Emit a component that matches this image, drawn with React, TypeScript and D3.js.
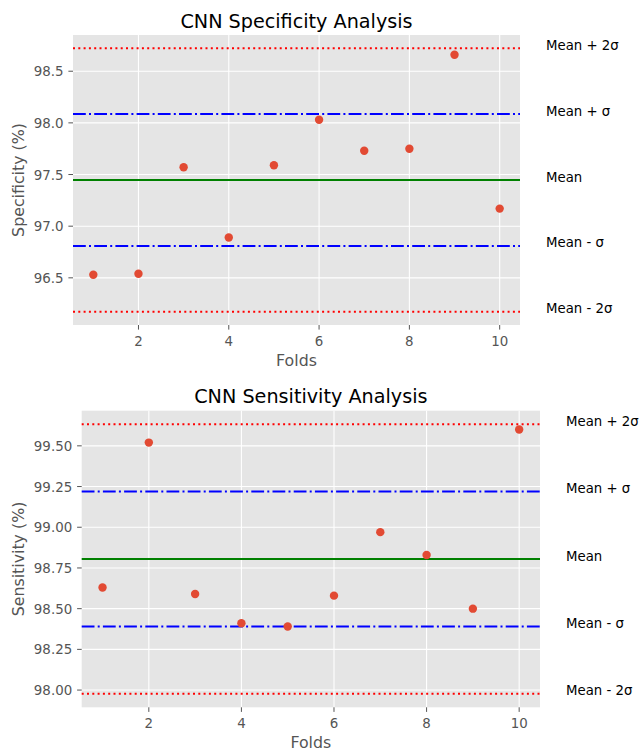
import React, { useEffect } from "react";
import * as d3 from "d3";

const FOLDS = [1, 2, 3, 4, 5, 6, 7, 8, 9, 10];
const SPEC_VALUES = [96.53, 96.54, 97.57, 96.89, 97.59, 98.03, 97.73, 97.75, 98.66, 97.17];
const SENS_VALUES = [98.63, 99.52, 98.59, 98.41, 98.39, 98.58, 98.97, 98.83, 98.5, 99.6];
const SPEC_MEAN = 97.447;
const SPEC_SIGMA = 0.638;
const SENS_MEAN = 98.805;
const SENS_SIGMA = 0.414;
const X_TICKS = [2, 4, 6, 8, 10];
const SPEC_Y_TICKS = [96.5, 97.0, 97.5, 98.0, 98.5];
const SENS_Y_TICKS = [98.0, 98.25, 98.5, 98.75, 99.0, 99.25, 99.5];
const BAND_MULTS = [2, 1, 0, -1, -2];
const BAND_LABELS = ["Mean + 2σ", "Mean + σ", "Mean", "Mean - σ", "Mean - 2σ"];

const FONT = "DejaVu Sans, Verdana, sans-serif";

type PanelProps = {
  title: string;
  ylabel: string;
  values: number[];
  mean: number;
  sigma: number;
  yTicks: number[];
  yFmt: string;
  left: number;
  right: number;
  top: number;
  bottom: number;
};

function bandStyle(m: number) {
  if (m === 0) return { stroke: "#008000", dash: undefined as string | undefined };
  if (Math.abs(m) === 1) return { stroke: "#0000ff", dash: "12.8,3.2,2,3.2" };
  return { stroke: "#ff0000", dash: "2,3.3" };
}

function Panel(p: PanelProps) {
  const lo = p.mean - 2 * p.sigma;
  const hi = p.mean + 2 * p.sigma;
  const pad = (hi - lo) * 0.05;
  const x = d3.scaleLinear().domain([0.55, 10.45]).range([p.left, p.right]);
  const y = d3.scaleLinear().domain([lo - pad, hi + pad]).range([p.bottom, p.top]);
  const fmt = d3.format(p.yFmt);
  const cx = (p.left + p.right) / 2;
  const cy = (p.top + p.bottom) / 2;
  return (
    <g fontFamily={FONT}>
      <rect x={p.left} y={p.top} width={p.right - p.left} height={p.bottom - p.top} fill="#E5E5E5" />
      {p.yTicks.map((t) => (
        <line key={"gy" + t} x1={p.left} x2={p.right} y1={y(t)} y2={y(t)} stroke="#ffffff" strokeWidth={1.1} />
      ))}
      {X_TICKS.map((t) => (
        <line key={"gx" + t} x1={x(t)} x2={x(t)} y1={p.top} y2={p.bottom} stroke="#ffffff" strokeWidth={1.1} />
      ))}
      {p.yTicks.map((t) => (
        <g key={"ty" + t}>
          <line x1={p.left - 4.6} x2={p.left} y1={y(t)} y2={y(t)} stroke="#555555" strokeWidth={1} />
          <text x={p.left - 9.5} y={y(t) + 5} textAnchor="end" fontSize={13.4} fill="#555555">
            {fmt(t)}
          </text>
        </g>
      ))}
      {X_TICKS.map((t) => (
        <g key={"tx" + t}>
          <line x1={x(t)} x2={x(t)} y1={p.bottom} y2={p.bottom + 4.6} stroke="#555555" strokeWidth={1} />
          <text x={x(t)} y={p.bottom + 20.5} textAnchor="middle" fontSize={13.4} fill="#555555">
            {t}
          </text>
        </g>
      ))}
      {BAND_MULTS.map((m, i) => {
        const s = bandStyle(m);
        const yy = y(p.mean + m * p.sigma);
        return (
          <g key={"b" + m}>
            <line x1={p.left} x2={p.right} y1={yy} y2={yy} stroke={s.stroke} strokeWidth={2} strokeDasharray={s.dash} />
            <text x={p.right + 26} y={yy + 1.5} fontSize={13.3} fill="#000000">
              {BAND_LABELS[i]}
            </text>
          </g>
        );
      })}
      {p.values.map((v, i) => (
        <circle key={"pt" + i} cx={x(FOLDS[i])} cy={y(v)} r={4.2} fill="#E24A33" />
      ))}
      <text x={cx} y={p.top - 7.4} textAnchor="middle" fontSize={19.2} fill="#000000">
        {p.title}
      </text>
      <text x={cx} y={p.bottom + 41} textAnchor="middle" fontSize={15.8} fill="#555555">
        Folds
      </text>
      <text
        transform={`translate(${18 + 5.5},${cy}) rotate(-90)`}
        textAnchor="middle"
        fontSize={15.8}
        fill="#555555"
      >
        {p.ylabel}
      </text>
    </g>
  );
}

export default function App() {
  useEffect(() => {
    document.body.style.margin = "0";
  }, []);
  return (
    <svg width={644} height={751} style={{ display: "block", background: "#ffffff" }}>
      <rect width={644} height={751} fill="#ffffff" />
      <Panel
        title="CNN Specificity Analysis"
        ylabel="Specificity (%)"
        values={SPEC_VALUES}
        mean={SPEC_MEAN}
        sigma={SPEC_SIGMA}
        yTicks={SPEC_Y_TICKS}
        yFmt=".1f"
        left={73}
        right={520}
        top={35}
        bottom={325}
      />
      <Panel
        title="CNN Sensitivity Analysis"
        ylabel="Sensitivity (%)"
        values={SENS_VALUES}
        mean={SENS_MEAN}
        sigma={SENS_SIGMA}
        yTicks={SENS_Y_TICKS}
        yFmt=".2f"
        left={81.7}
        right={540}
        top={410.7}
        bottom={707.3}
      />
    </svg>
  );
}
